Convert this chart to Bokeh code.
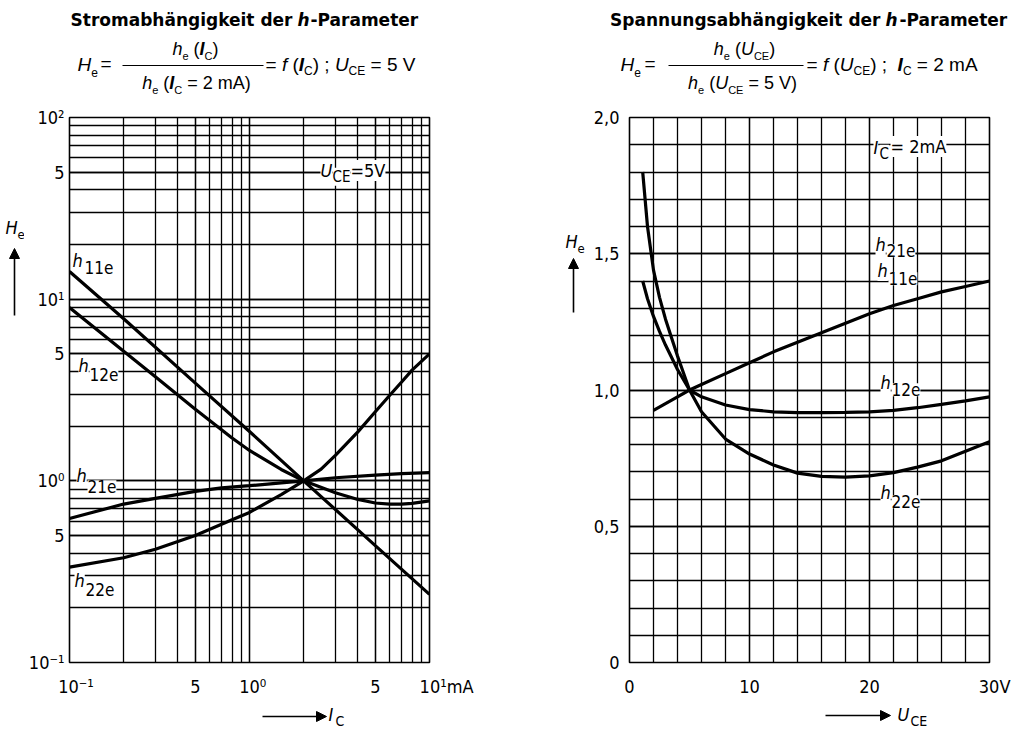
from bokeh.plotting import figure
from bokeh.layouts import row, column
from bokeh.models import Label, Arrow, NormalHead, FixedTicker
from bokeh.embed import file_html
from bokeh.resources import INLINE

# ---------------- data ----------------
# left: current dependence, I_C in mA, U_CE = 5 V
ic_h11e = [0.1, 0.2, 0.5, 1, 2, 5, 10]
h11e_ic = [14.2, 7.8, 3.45, 1.87, 1.0, 0.44, 0.237]
ic_h12e = [0.1, 0.2, 0.3, 0.5, 0.8, 1, 1.5, 2, 3, 4, 5, 6, 7, 8, 10]
h12e_ic = [9.0, 5.17, 3.74, 2.48, 1.72, 1.47, 1.155, 1.0, 0.86, 0.79, 0.755, 0.745, 0.745, 0.752, 0.776]
ic_h21e = [0.1, 0.2, 0.3, 0.5, 0.7, 1, 1.5, 2, 3, 5, 7, 10]
h21e_ic = [0.62, 0.745, 0.8, 0.875, 0.915, 0.94, 0.975, 1.0, 1.04, 1.075, 1.095, 1.11]
ic_h22e = [0.1, 0.2, 0.3, 0.5, 0.8, 1, 1.5, 2, 2.5, 3, 4, 5, 6, 7, 8, 10]
h22e_ic = [0.335, 0.377, 0.42, 0.50, 0.61, 0.67, 0.84, 1.0, 1.16, 1.38, 1.86, 2.4, 2.95, 3.5, 4.07, 5.0]

# right: voltage dependence, U_CE in V, I_C = 2 mA
uce_h21e = [2, 3, 4, 5, 6, 8, 10, 12, 14, 16, 18, 20, 22, 24, 26, 28, 30]
h21e_uce = [0.925, 0.95, 0.975, 1.0, 1.02, 1.06, 1.10, 1.14, 1.175, 1.21, 1.245, 1.28, 1.31, 1.335, 1.36, 1.38, 1.40]
uce_h12e = [1.1, 1.5, 2, 2.5, 3, 4, 5, 6, 8, 10, 12, 14, 16, 18, 20, 22, 24, 26, 28, 30]
h12e_uce = [1.40, 1.335, 1.27, 1.215, 1.165, 1.075, 1.0, 0.975, 0.945, 0.928, 0.92, 0.917, 0.917, 0.918,
            0.92, 0.925, 0.935, 0.947, 0.96, 0.975]
uce_h22e = [1.1, 1.5, 2, 2.5, 3, 4, 5, 6, 8, 10, 12, 14, 16, 18, 20, 22, 24, 26, 28, 30]
h22e_uce = [1.80, 1.60, 1.44, 1.34, 1.26, 1.125, 1.0, 0.92, 0.82, 0.765, 0.725, 0.695, 0.683, 0.68,
            0.685, 0.697, 0.717, 0.74, 0.775, 0.81]

# tick labels (thin / figure spaces keep the mantissa "10" centred on its tick)
left_x_ticks = [0.1, 0.5, 1, 5, 10]
left_x_labels = ["\u2009\u2009\u2009\u200910\u207b\u00b9", "5", "\u2009\u200910\u2070", "5",
                 "\u2007\u2007\u2007\u200910\u00b9mA"]
left_y_ticks = [0.1, 0.5, 1, 5, 10, 50, 100]
left_y_labels = ["10\u207b\u00b9", "5", "10\u2070", "5", "10\u00b9", "5", "10\u00b2"]
right_x_ticks = [0, 10, 20, 30]
right_x_labels = ["0", "10", "20", "\u200730V"]
right_y_ticks = [0, 0.5, 1.0, 1.5, 2.0]
right_y_labels = ["0", "0,5", "1,0", "1,5", "2,0"]

FONT = "Liberation Sans"
TITLE_FONT = "DejaVu Sans"
NARROW = "DejaVu Sans Condensed"
GRID_W = 1.3
CURVE_W = 3.2
BASE_SHIFT = 0.45   # compensates the label baseline placement

W_REG = {' ': 278, '(': 333, ')': 333, '=': 584, ';': 278, '2': 556, '5': 556, 'm': 833, 'A': 667,
         'V': 667, 'C': 722, 'E': 667, 'U': 722, 'H': 722, 'I': 278, 'h': 556, 'e': 556, 'f': 278}
W_BOLD = {'(': 333, ')': 333, 'I': 278, 'C': 722, 'h': 611, 'U': 722, 'E': 667}


def tw(text, size, style):
    tab = W_BOLD if "bold" in style else W_REG
    return sum(tab.get(ch, 556) for ch in text) * size / 1000.0


def txt(p, fr, cx, cy, text, size, style="normal", align="left", font=FONT, bg=None):
    fx, fy = fr
    lab = Label(x=cx - fx, y=fy - (cy - BASE_SHIFT * size), x_units="screen", y_units="screen", text=text,
                text_font_size=f"{size}px", text_font_style=style, text_align=align,
                text_baseline="alphabetic", text_font=font, text_color="black")
    if bg:
        lab.background_fill_color = bg
    p.add_layout(lab)


def seq(p, fr, x, y, pieces, font=FONT):
    for text, size, style, dy in pieces:
        lead = len(text) - len(text.lstrip(" "))
        body = text.strip(" ")
        if body:
            txt(p, fr, x + tw(" " * lead, size, style), y + dy, body, size, style, font=font)
        x += tw(text, size, style)
    return x


def seq_center(p, fr, xc, y, pieces, font=FONT):
    total = sum(tw(t, s, st) for t, s, st, _ in pieces)
    return seq(p, fr, xc - total / 2.0, y, pieces, font)


def hline(p, fr, x0, x1, y, w=1.2):
    fx, fy = fr
    p.add_layout(Arrow(x_start=x0 - fx, y_start=fy - y, x_end=x1 - fx, y_end=fy - y,
                       start_units="screen", end_units="screen", end=None,
                       line_color="black", line_width=w))


def arrow(p, fr, x0, y0, x1, y1):
    fx, fy = fr
    p.add_layout(Arrow(x_start=x0 - fx, y_start=fy - y0, x_end=x1 - fx, y_end=fy - y1,
                       start_units="screen", end_units="screen",
                       end=NormalHead(size=10, fill_color="black", line_color="black"),
                       line_color="black", line_width=1.6))


def blank(w, h, top=0, bottom=0):
    b = figure(width=w, height=h, output_backend="svg", toolbar_location=None,
               x_axis_location=None, y_axis_location=None, x_range=(0, 1), y_range=(0, 1),
               min_border_left=0, min_border_right=0, min_border_top=top, min_border_bottom=bottom)
    b.outline_line_color = None
    b.grid.visible = False
    b.background_fill_color = "white"
    b.border_fill_color = "white"
    return b


def style_fig(p, ystand):
    p.background_fill_color = "white"
    p.border_fill_color = "white"
    p.outline_line_color = "black"
    p.outline_line_width = 1.6
    for ax in (p.xaxis, p.yaxis):
        ax.axis_line_color = None
        ax.major_tick_line_color = None
        ax.minor_tick_line_color = None
        ax.major_tick_out = 0
        ax.major_tick_in = 0
        ax.minor_tick_out = 0
        ax.minor_tick_in = 0
        ax.major_label_text_font = NARROW
        ax.major_label_text_font_size = "18px"
        ax.major_label_text_color = "black"
    p.xaxis.major_label_standoff = 13
    p.yaxis.major_label_standoff = ystand
    for g in (p.xgrid, p.ygrid):
        g.grid_line_color = "black"
        g.grid_line_width = GRID_W
        g.grid_line_alpha = 1.0
        g.minor_grid_line_color = "black"
        g.minor_grid_line_width = GRID_W


TOP, BOT = 17, 38   # borders of the plot row (row spans y 100..700)
S1W, S2W = 24, 76   # side strips

# ---------------- left figure ----------------
p1 = figure(width=513 - S1W, height=600, x_axis_type="log", y_axis_type="log",
            x_range=(0.1, 10), y_range=(0.1, 100), output_backend="svg", toolbar_location=None,
            min_border_left=69 - S1W, min_border_right=84, min_border_top=TOP, min_border_bottom=BOT)
style_fig(p1, 5)
lx_minor = [k * d for d in (0.1, 1) for k in range(1, 10)] + [10]
ly_minor = [k * d for d in (0.1, 1, 10) for k in range(1, 10)] + [100]
p1.xaxis.ticker = FixedTicker(ticks=left_x_ticks, minor_ticks=lx_minor)
p1.yaxis.ticker = FixedTicker(ticks=left_y_ticks, minor_ticks=ly_minor)
p1.xaxis.major_label_overrides = dict(zip(left_x_ticks, left_x_labels))
p1.yaxis.major_label_overrides = dict(zip(left_y_ticks, left_y_labels))

p1.line(ic_h11e, h11e_ic, line_color="black", line_width=CURVE_W)
p1.line(ic_h12e, h12e_ic, line_color="black", line_width=CURVE_W)
p1.line(ic_h21e, h21e_ic, line_color="black", line_width=CURVE_W)
p1.line(ic_h22e, h22e_ic, line_color="black", line_width=CURVE_W)

F1 = (69, 100 + 600 - BOT)
txt(p1, F1, 72, 268, "h", 18, "italic", font=NARROW, bg="white")
txt(p1, F1, 84, 275, "11e", 17, font=NARROW, bg="white")
txt(p1, F1, 78, 373, "h", 18, "italic", font=NARROW, bg="white")
txt(p1, F1, 89, 382, "12e", 17, font=NARROW, bg="white")
txt(p1, F1, 76, 483, "h", 18, "italic", font=NARROW, bg="white")
txt(p1, F1, 87, 494, "21e", 17, font=NARROW, bg="white")
txt(p1, F1, 74, 588, "h", 18, "italic", font=NARROW, bg="white")
txt(p1, F1, 85, 597, "22e", 17, font=NARROW, bg="white")
txt(p1, F1, 320, 178, "U", 18, "italic", font=NARROW, bg="white")
txt(p1, F1, 332, 183, "CE", 15, font=NARROW, bg="white")
txt(p1, F1, 350, 178, "=5V", 18, font=NARROW, bg="white")

# ---------------- right figure ----------------
p2 = figure(width=513 - S2W, height=600, x_range=(0, 30), y_range=(0, 2.0), output_backend="svg",
            toolbar_location=None,
            min_border_left=629 - 513 - S2W, min_border_right=37, min_border_top=TOP, min_border_bottom=BOT)
style_fig(p2, 10)
p2.xaxis.ticker = FixedTicker(ticks=right_x_ticks, minor_ticks=list(range(0, 31, 2)))
p2.yaxis.ticker = FixedTicker(ticks=right_y_ticks, minor_ticks=[i / 10 for i in range(0, 21)])
p2.xaxis.major_label_overrides = dict(zip(right_x_ticks, right_x_labels))
p2.yaxis.major_label_overrides = dict(zip(right_y_ticks, right_y_labels))

p2.line(uce_h21e, h21e_uce, line_color="black", line_width=CURVE_W)
p2.line(uce_h12e, h12e_uce, line_color="black", line_width=CURVE_W)
p2.line(uce_h22e, h22e_uce, line_color="black", line_width=CURVE_W)

F2 = (629, 100 + 600 - BOT)
txt(p2, F2, 873, 155, "I", 18, "italic", font=NARROW, bg="white")
txt(p2, F2, 879, 160, "C", 15, font=NARROW, bg="white")
txt(p2, F2, 890, 154, "= 2mA", 18, font=NARROW, bg="white")
txt(p2, F2, 875, 252, "h", 18, "italic", font=NARROW, bg="white")
txt(p2, F2, 886, 258, "21e", 17, font=NARROW, bg="white")
txt(p2, F2, 877, 278, "h", 18, "italic", font=NARROW, bg="white")
txt(p2, F2, 888, 286, "11e", 17, font=NARROW, bg="white")
txt(p2, F2, 880, 390, "h", 18, "italic", font=NARROW, bg="white")
txt(p2, F2, 891, 397, "12e", 17, font=NARROW, bg="white")
txt(p2, F2, 880, 500, "h", 18, "italic", font=NARROW, bg="white")
txt(p2, F2, 891, 509, "22e", 17, font=NARROW, bg="white")

# ---------------- header (titles + defining formulas), y 0..100 ----------------
h1 = blank(513, 100)
H1 = (0, 100)
txt(h1, H1, 292, 27, "Stromabhängigkeit der", 17, "bold", align="right", font=TITLE_FONT)
txt(h1, H1, 297, 27, "h", 17, "bold italic", font=TITLE_FONT)
txt(h1, H1, 310, 27, "-Parameter", 17, "bold", font=TITLE_FONT)
seq(h1, H1, 77, 73, [("H", 19, "italic", 0), ("e", 12, "normal", 4)])
txt(h1, H1, 100, 72, "=", 19)
seq_center(h1, H1, 195, 57, [("h", 18, "italic", 0), ("e", 11, "normal", 3), (" (", 18, "normal", 0),
                             ("I", 18, "bold italic", 0), ("C", 11, "normal", 3), (")", 18, "normal", 0)])
hline(h1, H1, 122, 263, 65)
seq_center(h1, H1, 196, 91, [("h", 18, "italic", 0), ("e", 11, "normal", 3), (" (", 18, "normal", 0),
                             ("I", 18, "bold italic", 0), ("C", 11, "normal", 3), (" = 2 mA)", 18, "normal", 0)])
seq(h1, H1, 265, 73, [("= ", 19, "normal", 0), ("f", 19, "italic", 0), (" (", 19, "normal", 0),
                      ("I", 19, "bold italic", 0), ("C", 12, "normal", 3), (") ; ", 19, "normal", 0),
                      ("U", 19, "italic", 0), ("CE", 12, "normal", 3), (" = 5 V", 19, "normal", 0)])

h2 = blank(513, 100)
H2 = (513, 100)
txt(h2, H2, 880, 27, "Spannungsabhängigkeit der", 17, "bold", align="right", font=TITLE_FONT)
txt(h2, H2, 885, 27, "h", 17, "bold italic", font=TITLE_FONT)
txt(h2, H2, 899, 27, "-Parameter", 17, "bold", font=TITLE_FONT)
seq(h2, H2, 620, 73, [("H", 19, "italic", 0), ("e", 12, "normal", 4)])
txt(h2, H2, 644, 72, "=", 19)
seq_center(h2, H2, 744, 57, [("h", 18, "italic", 0), ("e", 11, "normal", 3), (" (", 18, "normal", 0),
                             ("U", 18, "italic", 0), ("CE", 11, "normal", 3), (")", 18, "normal", 0)])
hline(h2, H2, 668, 803, 65)
seq_center(h2, H2, 742, 91, [("h", 18, "italic", 0), ("e", 11, "normal", 3), (" (", 18, "normal", 0),
                             ("U", 18, "italic", 0), ("CE", 11, "normal", 3), (" = 5 V)", 18, "normal", 0)])
seq(h2, H2, 806, 73, [("= ", 19, "normal", 0), ("f", 19, "italic", 0), (" (", 19, "normal", 0),
                      ("U", 19, "italic", 0), ("CE", 12, "normal", 3), (") ;", 19, "normal", 0),
                      ("  ", 19, "normal", 0),
                      ("I", 19, "bold italic", 0), ("C", 12, "normal", 3), (" ", 19, "normal", 0),
                      ("= 2 mA", 19, "normal", 0)])

# ---------------- side strips with the y-axis quantity ----------------
s1 = blank(S1W, 600, TOP, BOT)
S1 = (0, 100 + 600 - BOT)
txt(s1, S1, 5, 235, "H", 18, "italic", font=NARROW)
txt(s1, S1, 17, 240, "e", 13, font=NARROW)
arrow(s1, S1, 14, 315, 14, 248)

s2 = blank(S2W, 600, TOP, BOT)
S2 = (513, 100 + 600 - BOT)
txt(s2, S2, 565, 249, "H", 18, "italic", font=NARROW)
txt(s2, S2, 577, 254, "e", 13, font=NARROW)
arrow(s2, S2, 573, 312, 573, 258)

# ---------------- footer with the x-axis quantity, y 700..729 ----------------
f1 = blank(513, 29)
FF1 = (0, 729)
arrow(f1, FF1, 262, 716, 326, 716)
txt(f1, FF1, 328, 722, "I", 18, "italic", font=NARROW)
txt(f1, FF1, 335, 727, "C", 14, font=NARROW)

f2 = blank(513, 29)
FF2 = (513, 729)
arrow(f2, FF2, 825, 715, 890, 715)
txt(f2, FF2, 897, 722, "U", 18, "italic", font=NARROW)
txt(f2, FF2, 910, 727, "CE", 14, font=NARROW)

layout = column(row(h1, h2), row(s1, p1, s2, p2), row(f1, f2))
open("out.html", "w").write(file_html(layout, INLINE))
